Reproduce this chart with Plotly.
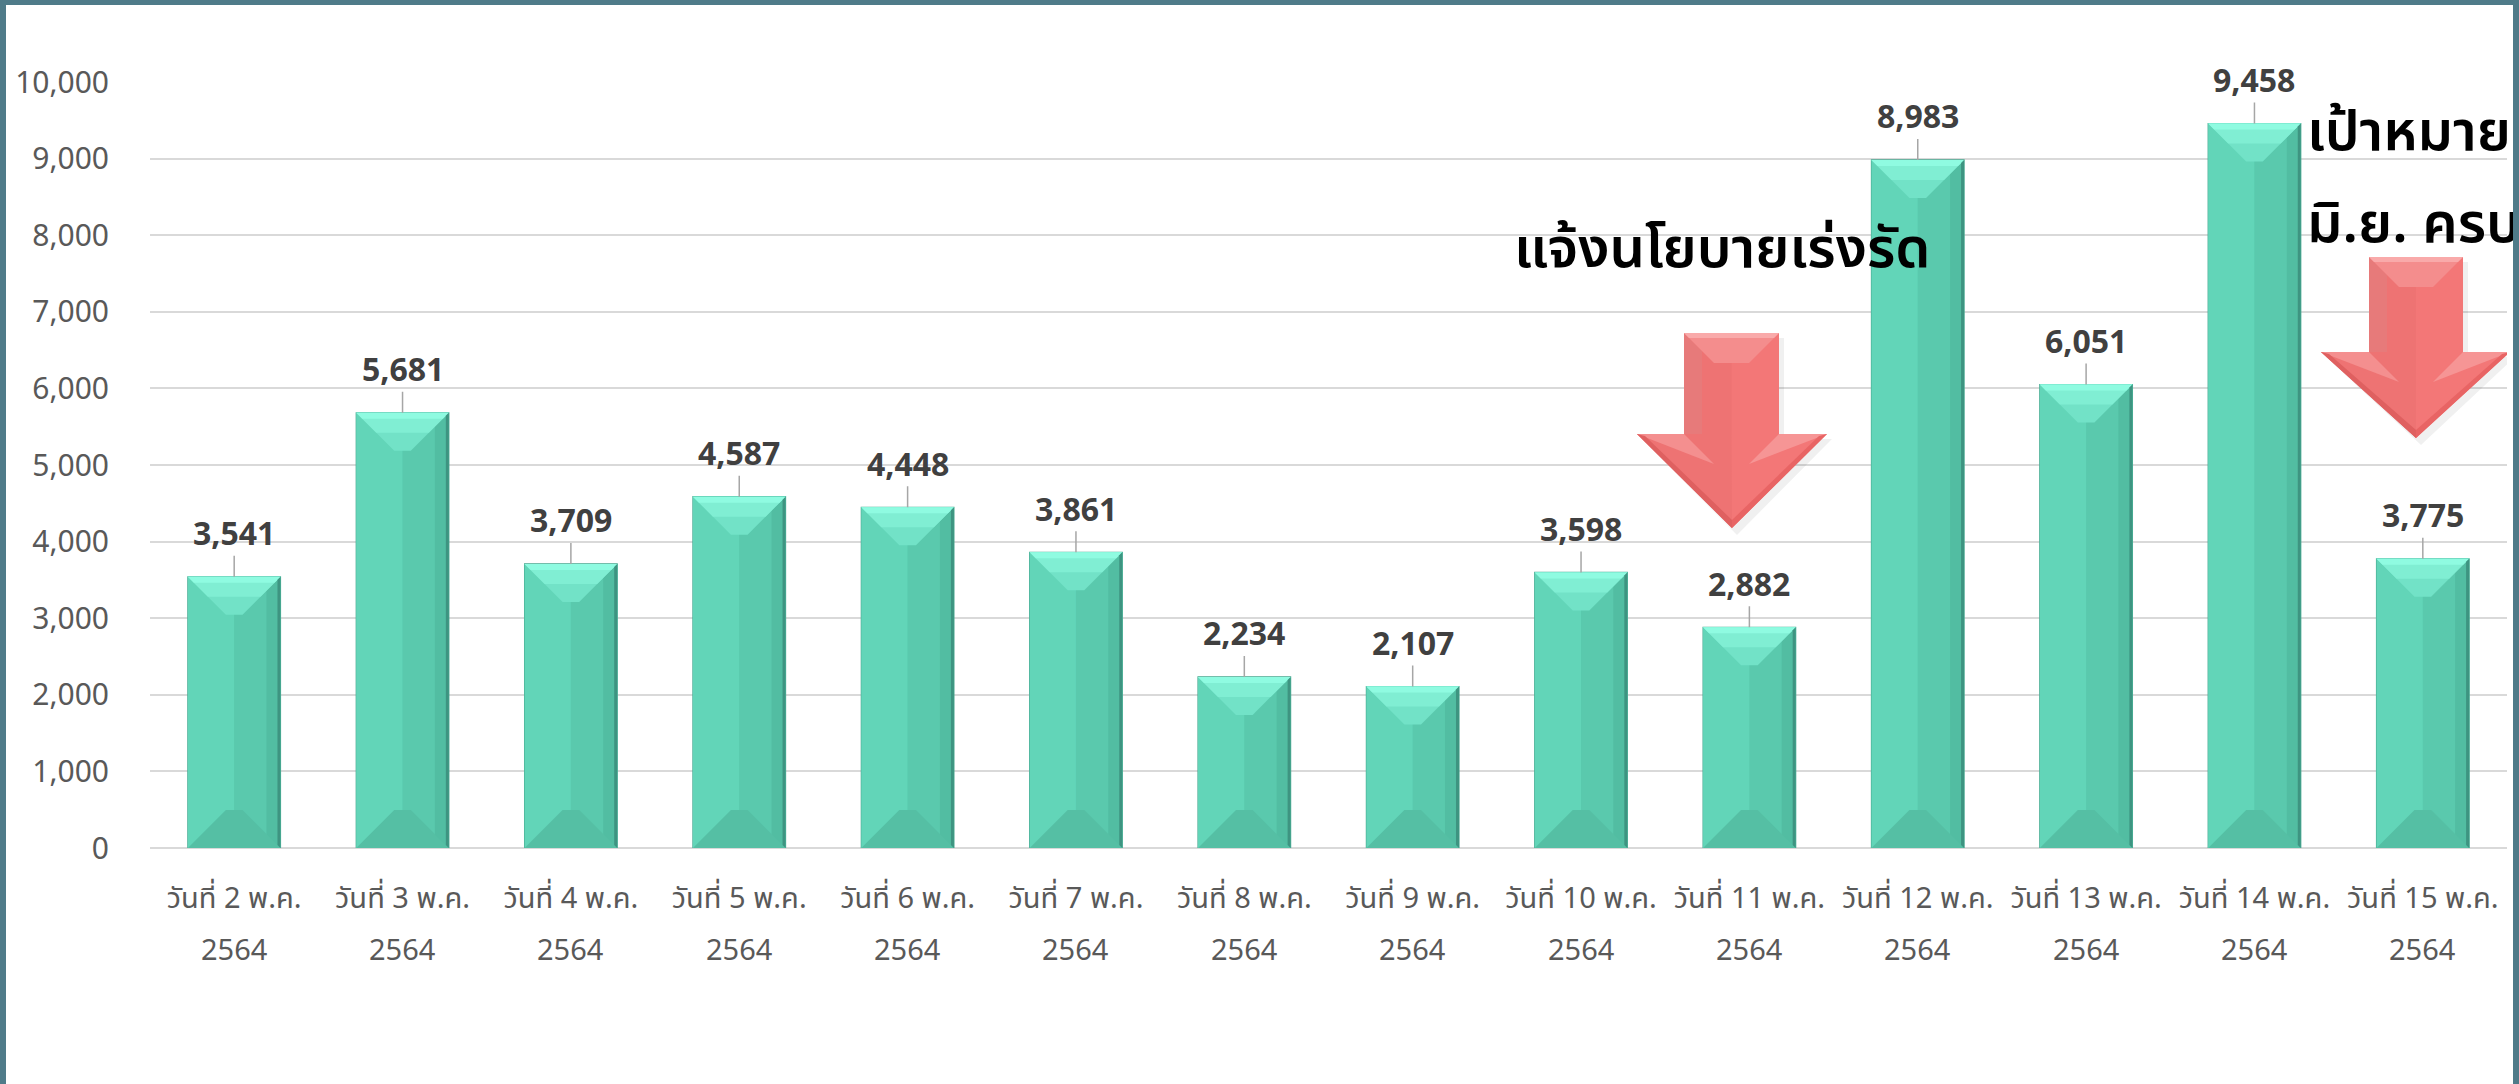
import plotly.graph_objects as go

# ---------------- data ----------------
day_labels = ["วันที่ 2 พ.ค.", "วันที่ 3 พ.ค.", "วันที่ 4 พ.ค.", "วันที่ 5 พ.ค.",
              "วันที่ 6 พ.ค.", "วันที่ 7 พ.ค.", "วันที่ 8 พ.ค.", "วันที่ 9 พ.ค.",
              "วันที่ 10 พ.ค.", "วันที่ 11 พ.ค.", "วันที่ 12 พ.ค.", "วันที่ 13 พ.ค.",
              "วันที่ 14 พ.ค.", "วันที่ 15 พ.ค."]
year_label = "2564"
values = [3541, 5681, 3709, 4587, 4448, 3861, 2234, 2107, 3598, 2882, 8983, 6051, 9458, 3775]
y_ticks = [0, 1000, 2000, 3000, 4000, 5000, 6000, 7000, 8000, 9000, 10000]
note1 = "แจ้งนโยบายเร่งรัด"
note2a = "เป้าหมาย"
note2b = "มิ.ย. ครบ"

# ---------------- layout constants ----------------
W, H = 2519, 1084
ML, MR, MT, MB = 150, 12, 82, 236
PW, PH = W - ML - MR, H - MT - MB
N = len(values)
YMAX = 10000
CAT_PX = PW / N
UNIT_PX = PH / YMAX

def px_x(px):           # absolute pixel x -> data x
    return (px - ML) / CAT_PX - 0.5

def px_y(py):           # absolute pixel y -> data y
    return (MT + PH - py) / UNIT_PX

def dx(px):             # pixel length -> x units
    return px / CAT_PX

def dy(px):             # pixel length -> y units
    return px / UNIT_PX

FONT = "Noto Sans, Noto Sans Thai, Tahoma, sans-serif"
BAR_W = 0.55
xs = list(range(N))

fig = go.Figure()
fig.add_trace(go.Bar(
    x=xs, y=values, width=BAR_W,
    marker=dict(color="#5dd0b3", line=dict(color="#47a890", width=1.2)),
    hoverinfo="skip",
))

shapes = []

def poly(pts, color, layer="above"):
    d = "M " + " L ".join(f"{a},{b}" for a, b in pts) + " Z"
    shapes.append(dict(type="path", xref="x", yref="y", path=d,
                       fillcolor=color, line=dict(width=0), layer=layer))

# bevels on bars (subtle soft-edge look)
hw = BAR_W / 2
bx, by = dx(38), dy(38)
for x, v in zip(xs, values):
    L, R = x - hw, x + hw
    # left lighter half, right darker half of the face
    poly([(L, v), (x, v), (x, 0), (L, 0)], "#62d5b8")
    poly([(x, v), (R, v), (R, 0), (x, 0)], "#5ac9ad")
    poly([(R - dx(14), v), (R, v), (R, 0), (R - dx(14), 0)], "#52bda2")
    # bottom bevel
    poly([(L, 0), (L + bx, by), (R - bx, by), (R, 0)], "#55bfa4")
    # top bevel
    poly([(L, v), (R, v), (R - bx, v - by), (L + bx, v - by)], "#72e2c7")
    poly([(L, v), (R, v), (R - dx(20), v - dy(20)), (L + dx(20), v - dy(20))], "#80eed3")
    poly([(L, v), (R, v), (R - dx(6), v - dy(6)), (L + dx(6), v - dy(6))], "#8ffbe1")
    # darker right edge
    poly([(R, v), (R - dx(3), v - dy(3)), (R - dx(3), dy(3)), (R, 0)], "#3e9481")

# down arrows (decorations)
def arrow(sL, sR, top, wL, wR, wing, tipx, tipy):
    o = 5
    sh = [(sL + dx(o), top - dy(o)), (sR + dx(o), top - dy(o)), (sR + dx(o), wing - dy(o)),
          (wR + dx(o), wing - dy(o)), (tipx + dx(o), tipy - dy(o + 2)), (wL + dx(o), wing - dy(o)),
          (sL + dx(o), wing - dy(o))]
    poly(sh, "rgba(0,0,0,0.06)")
    body = [(sL, top), (sR, top), (sR, wing), (wR, wing), (tipx, tipy), (wL, wing), (sL, wing)]
    poly(body, "#f37777")
    cx = (sL + sR) / 2
    b = 30
    # left half slightly darker
    poly([(sL, top), (cx, top), (cx, wing), (tipx, tipy), (wL, wing), (sL, wing)], "#ee7373")
    # shaft left edge shade
    poly([(sL, top), (sL + dx(18), top - dy(18)), (sL + dx(18), wing), (sL, wing)], "#e77a7a")
    # shaft top bevel
    poly([(sL, top), (sR, top), (sR - dx(b), top - dy(b)), (sL + dx(b), top - dy(b))], "#f48d8d")
    poly([(sL, top), (sR, top), (sR - dx(5), top - dy(5)), (sL + dx(5), top - dy(5))], "#f9aaaa")
    # wing bevels
    poly([(wL, wing), (sL, wing), (sL + dx(b), wing - dy(b))], "#f48f8f")
    poly([(wR, wing), (sR, wing), (sR - dx(b), wing - dy(b))], "#f69595")
    # lower edges darker
    poly([(tipx, tipy), (wR, wing), (wR - dx(8), wing - dy(2)), (tipx, tipy + dy(8))], "#e86464")
    poly([(tipx, tipy), (wL, wing), (wL + dx(8), wing - dy(2)), (tipx, tipy + dy(8))], "#df6060")

arrow(px_x(1684), px_x(1779), px_y(333), px_x(1637), px_x(1827), px_y(434), px_x(1732), px_y(528))
arrow(px_x(2369), px_x(2463), px_y(257), px_x(2321), px_x(2510), px_y(352), px_x(2416), px_y(438))

# page border
BORDER = "#4f7b89"
shapes.append(dict(type="rect", xref="paper", yref="paper", x0=-ML / PW, x1=-(ML - 6) / PW,
                   y0=-MB / PH, y1=(PH + MT) / PH, fillcolor=BORDER, line=dict(width=0), layer="above"))
shapes.append(dict(type="rect", xref="paper", yref="paper", x0=-ML / PW, x1=(PW + MR) / PW,
                   y0=(PH + MT - 5) / PH, y1=(PH + MT) / PH, fillcolor=BORDER, line=dict(width=0), layer="above"))

annotations = []
# value labels with leader lines
for x, v in zip(xs, values):
    annotations.append(dict(
        x=x, y=v, xref="x", yref="y", text=f"{v:,}",
        showarrow=True, arrowhead=0, arrowwidth=1.5, arrowcolor="#a6a6a6",
        ax=0, ay=-44, standoff=0, startstandoff=0,
        font=dict(family=FONT, size=32, color="#404040", weight="bold"),
    ))
# second line of category labels
for x in xs:
    annotations.append(dict(
        x=x, y=0, xref="x", yref="paper", text=year_label, showarrow=False,
        yanchor="middle", yshift=-100,
        font=dict(family=FONT, size=29, color="#595959"),
    ))
# notes
NOTE_FONT = dict(family=FONT, size=56, color="#000000", weight=600)
annotations.append(dict(x=px_x(1722), y=px_y(245), xref="x", yref="y", text=note1,
                        showarrow=False, xanchor="center", yanchor="middle", font=NOTE_FONT))
annotations.append(dict(x=px_x(2305), y=px_y(128), xref="x", yref="y", text=note2a,
                        showarrow=False, xanchor="left", yanchor="middle", font=NOTE_FONT))
annotations.append(dict(x=px_x(2305), y=px_y(220), xref="x", yref="y", text=note2b,
                        showarrow=False, xanchor="left", yanchor="middle", font=NOTE_FONT))
# right border drawn last so that it covers overflowing text
annotations.append(dict(x=1, y=(PH + MT - H / 2) / PH, xref="paper", yref="paper", text=" ",
                        showarrow=False, xanchor="left", yanchor="middle", xshift=6,
                        width=8, height=H + 10, bgcolor=BORDER, borderpad=0, borderwidth=0,
                        font=dict(size=10)))

fig.update_layout(
    width=W, height=H,
    margin=dict(l=ML, r=MR, t=MT, b=MB, pad=0),
    paper_bgcolor="white", plot_bgcolor="white",
    showlegend=False, bargap=0.45,
    shapes=shapes, annotations=annotations,
    xaxis=dict(range=[-0.5, N - 0.5], tickmode="array", tickvals=xs, ticktext=day_labels,
               showgrid=False, zeroline=False, showline=False, ticks="",
               ticklabelstandoff=30,
               tickfont=dict(family=FONT, size=29, color="#595959"), fixedrange=True),
    yaxis=dict(range=[0, YMAX], tickmode="array", tickvals=y_ticks, tickformat=",",
               showgrid=True, gridcolor="#d9d9d9", gridwidth=2,
               zeroline=True, zerolinecolor="#d9d9d9", zerolinewidth=2,
               showline=False, ticks="", ticklabelstandoff=40,
               tickfont=dict(family=FONT, size=30, color="#595959"), fixedrange=True),
)

fig.write_html("out.html", config={"displayModeBar": False},
               post_script="document.body.style.margin='0';")
